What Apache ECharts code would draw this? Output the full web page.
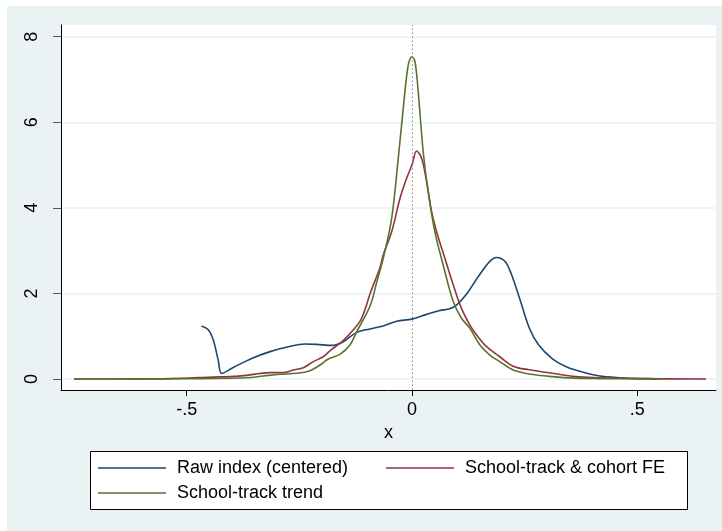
<!DOCTYPE html>
<html>
<head>
<meta charset="utf-8">
<script src="https://cdn.jsdelivr.net/npm/echarts@6/dist/echarts.min.js"></script>
<style>
html,body{margin:0;padding:0;background:#fff;}
#chart{width:722px;height:531px;}
</style>
</head>
<body>
<div id="chart"></div>
<script>
// ---- data ----
const seriesNames = ['Raw index (centered)', 'School-track & cohort FE', 'School-track trend'];

const rawX = [-0.467, -0.452, -0.441, -0.430, -0.4224, -0.3966, -0.3558, -0.315, -0.2745, -0.2375, -0.2115, -0.178, -0.1525, -0.1227, -0.0932, -0.0637, -0.034, 0, 0.0326, 0.062, 0.084, 0.1, 0.121, 0.14, 0.151, 0.173, 0.188, 0.2064, 0.22, 0.24, 0.261, 0.281, 0.312, 0.34, 0.363, 0.414, 0.465, 0.52, 0.55];
const rawY = [1.24, 1.15, 0.91, 0.44, 0.13, 0.27, 0.48, 0.64, 0.755, 0.818, 0.81, 0.785, 0.872, 1.09, 1.17, 1.24, 1.35, 1.40, 1.51, 1.60, 1.64, 1.74, 1.98, 2.28, 2.45, 2.75, 2.84, 2.75, 2.47, 1.85, 1.18, 0.80, 0.47, 0.30, 0.21, 0.075, 0.03, 0.01, 0.005];

const feX = [-0.75, -0.6, -0.515, -0.441, -0.404, -0.367, -0.337, -0.315, -0.2856, -0.2634, -0.241, -0.219, -0.197, -0.182, -0.1525, -0.130, -0.1116, -0.091, -0.071, -0.0637, -0.045, -0.0266, -0.0118, 0, 0.0104, 0.0215, 0.0326, 0.0437, 0.0548, 0.0732, 0.0917, 0.110, 0.1287, 0.1436, 0.1658, 0.195, 0.2248, 0.26, 0.312, 0.363, 0.414, 0.5, 0.653];
const feY = [0, 0.002, 0.015, 0.045, 0.055, 0.085, 0.13, 0.148, 0.148, 0.21, 0.265, 0.405, 0.52, 0.66, 0.9, 1.15, 1.42, 2.05, 2.6, 2.9, 3.44, 4.22, 4.69, 5.0, 5.33, 5.16, 4.61, 3.91, 3.44, 2.82, 2.2, 1.65, 1.26, 1.03, 0.755, 0.52, 0.30, 0.215, 0.133, 0.055, 0.03, 0.008, 0];

const trendX = [-0.75, -0.6, -0.515, -0.367, -0.33, -0.293, -0.256, -0.2264, -0.204, -0.1857, -0.16, -0.1376, -0.1227, -0.0932, -0.078, -0.0637, -0.045, -0.0303, -0.0192, -0.0082, 0, 0.0067, 0.014, 0.025, 0.036, 0.051, 0.0695, 0.0917, 0.110, 0.1287, 0.151, 0.173, 0.195, 0.2248, 0.26, 0.312, 0.363, 0.414, 0.554];
const trendY = [0, 0.002, 0.005, 0.03, 0.07, 0.11, 0.133, 0.194, 0.327, 0.467, 0.577, 0.795, 1.105, 1.7, 2.27, 2.82, 3.755, 5.16, 6.33, 7.34, 7.53, 7.42, 6.71, 5.31, 4.38, 3.44, 2.66, 1.81, 1.42, 1.185, 0.795, 0.56, 0.405, 0.21, 0.117, 0.055, 0.02, 0.01, 0];

const xTickValues = [-0.5, 0, 0.5];
const xTickLabels = ['-.5', '0', '.5'];
const yTickValues = [0, 2, 4, 6, 8];
const yTickLabels = ['0', '2', '4', '6', '8'];
const refLineX = 0;

// ---- build ----
function pairs(xs, ys) { return xs.map((x, i) => [x, ys[i]]); }
function lookup(vals, labels, v) {
  let best = 0;
  for (let i = 1; i < vals.length; i++) if (Math.abs(vals[i] - v) < Math.abs(vals[best] - v)) best = i;
  return labels[best];
}

const colors = ['#1a476f', '#90353b', '#55752f'];
const FONT = '"Liberation Sans", Arial, Helvetica, sans-serif';

const chart = echarts.init(document.getElementById('chart'), null, {renderer: 'canvas'});

const legendBase = {
  orient: 'horizontal',
  padding: 0,
  icon: 'rect',
  itemWidth: 68,
  itemHeight: 1.5,
  selectedMode: false,
  textStyle: {fontSize: 18, color: '#000', fontFamily: FONT, padding: [0, 0, 0, 6]}
};

const option = {
  backgroundColor: '#eaf2f3',
  animation: false,
  color: colors,
  graphic: [
    {type: 'rect', left: 0, top: 0, shape: {width: 722, height: 6}, style: {fill: '#ffffff'}, silent: true},
    {type: 'rect', left: 0, top: 0, shape: {width: 7, height: 531}, style: {fill: '#ffffff'}, silent: true},
    {type: 'rect', left: 90, top: 451, z: 1, shape: {width: 597, height: 58}, style: {fill: '#ffffff', stroke: '#000', lineWidth: 1}, silent: true}
  ],
  legend: [
    Object.assign({}, legendBase, {data: [seriesNames[0]], left: 98, top: 459}),
    Object.assign({}, legendBase, {data: [seriesNames[1]], left: 386, top: 459}),
    Object.assign({}, legendBase, {data: [seriesNames[2]], left: 98, top: 484})
  ],
  grid: {
    left: 61, top: 25, right: 6, bottom: 141,
    show: true, backgroundColor: '#ffffff', borderWidth: 0,
    containLabel: false
  },
  xAxis: {
    type: 'value',
    min: -0.779, max: 0.675,
    name: 'x', nameLocation: 'middle', nameGap: 32,
    nameTextStyle: {fontSize: 18, color: '#000', fontFamily: FONT},
    axisLine: {show: true, onZero: false, lineStyle: {color: '#000', width: 1}},
    axisTick: {show: true, length: 6, lineStyle: {color: '#000', width: 1}, customValues: xTickValues},
    axisLabel: {show: true, margin: 11, fontSize: 18, color: '#000', fontFamily: FONT,
      customValues: xTickValues,
      formatter: v => lookup(xTickValues, xTickLabels, v)},
    splitLine: {show: false}
  },
  yAxis: {
    type: 'value',
    min: -0.257, max: 8.273,
    axisLine: {show: true, onZero: false, lineStyle: {color: '#000', width: 1}},
    axisTick: {show: true, length: 8, lineStyle: {color: '#555', width: 1}, customValues: yTickValues},
    axisLabel: {show: true, rotate: 90, margin: 20, fontSize: 18, color: '#000', fontFamily: FONT,
      customValues: yTickValues,
      formatter: v => lookup(yTickValues, yTickLabels, v)},
    splitLine: {show: true, lineStyle: {color: '#eaf2f3', width: 1.5}}
  },
  series: [
    {
      name: seriesNames[0], type: 'line', data: pairs(rawX, rawY),
      showSymbol: false, smooth: 0.35, lineStyle: {width: 1.6, color: colors[0]},
      markLine: {
        silent: true, symbol: ['none', 'none'], label: {show: false},
        lineStyle: {color: '#8a8a8a', type: [1.5, 2.5], width: 1},
        data: [{xAxis: refLineX}]
      }
    },
    {
      name: seriesNames[1], type: 'line', data: pairs(feX, feY),
      showSymbol: false, smooth: 0.35, lineStyle: {width: 1.6, color: colors[1]}
    },
    {
      name: seriesNames[2], type: 'line', data: pairs(trendX, trendY),
      showSymbol: false, smooth: 0.35, lineStyle: {width: 1.6, color: colors[2]}
    }
  ]
};
chart.setOption(option);
</script>
</body>
</html>
